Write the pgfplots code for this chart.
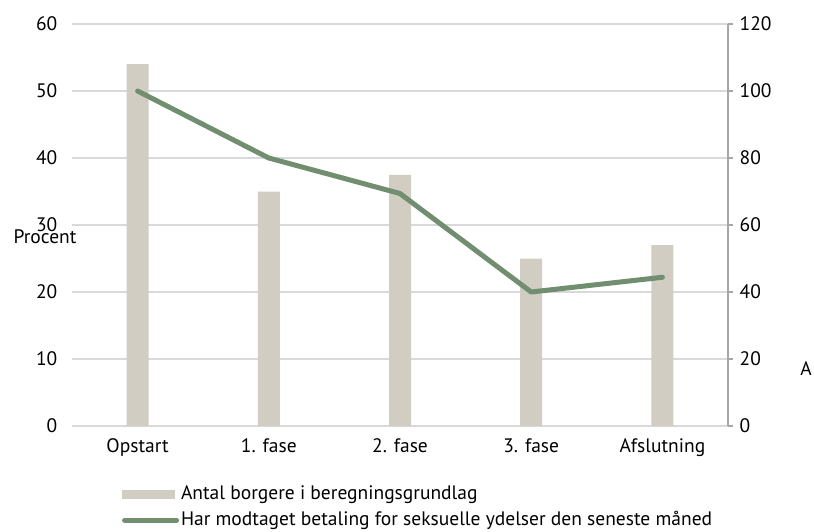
\documentclass[border=0pt]{standalone}
\usepackage{fontspec}
\setmainfont{PT Sans}
\usepackage{pgfplots}
\pgfplotsset{compat=1.18}
\definecolor{barbeige}{HTML}{D1CDC2}
\definecolor{linegreen}{HTML}{728E71}
\definecolor{gridgray}{HTML}{D9D9D9}
\definecolor{axgray}{HTML}{A6A6A6}

\begin{document}
\fontsize{19.5}{22}\selectfont
\begin{tikzpicture}[x=1pt,y=1pt]
\useasboundingbox (-72,-105) rectangle (742,426);
% right axis: counts (bars) + grid
\begin{axis}[
    at={(0,0)}, anchor=south west,
    scale only axis, width=656pt, height=402pt,
    xmin=-0.5, xmax=4.5, ymin=0, ymax=120,
    axis y line*=right, axis x line*=bottom,
    x axis line style={draw=none},
    xtick={0,1,2,3,4},
    xticklabels={Opstart,1. fase,2. fase,3. fase,Afslutning},
    xtick style={draw=none},
    xticklabel style={yshift=-1pt},
    ytick={0,20,...,120},
    y axis line style={axgray, line width=1.5pt},
    ytick style={axgray, line width=1.5pt},
    tick align=outside, major tick length=5pt,
    ymajorgrids, grid style={gridgray, line width=1.5pt},
    yticklabel style={xshift=0pt},
    /pgf/number format/assume math mode=true,
    ticklabel style={font=\fontsize{19.5}{22}\selectfont},
]
\addplot[ybar, bar width=22pt, fill=barbeige, draw=none] coordinates {
    (0,108) (1,70) (2,75) (3,50) (4,54)
};
\end{axis}
% left axis: percent (line)
\begin{axis}[
    at={(0,0)}, anchor=south west,
    scale only axis, width=656pt, height=402pt,
    xmin=-0.5, xmax=4.5, ymin=0, ymax=60,
    axis y line*=left, axis x line=none,
    y axis line style={draw=none},
    ytick={0,10,...,60}, ytick style={draw=none},
    yticklabel style={xshift=-8pt},
    /pgf/number format/assume math mode=true,
    ticklabel style={font=\fontsize{19.5}{22}\selectfont},
    legend style={draw=none, fill=none, at={(axis description cs:0.076,-0.143)},
        anchor=north west, row sep=5pt, font=\fontsize{19.5}{22}\selectfont,
        inner sep=0pt},
    legend cell align=left,
]
\addlegendimage{legend image code/.code={\fill[barbeige] (0pt,-4pt) rectangle (52pt,4pt);}}
\addlegendentry{Antal borgere i beregningsgrundlag}
\addplot[linegreen, line width=5pt, line cap=round, line join=round,
    legend image code/.code={\draw[linegreen, line width=5pt, line cap=round] (2pt,0pt) -- (54pt,0pt);}]
    coordinates {
    (0,50) (1,40) (2,34.7) (3,20) (4,22.2)
};
\addlegendentry{Har modtaget betaling for seksuelle ydelser den seneste måned}
\end{axis}
\node at (-27,189) {Procent};
\node at (734,57) {A};
\end{tikzpicture}
\end{document}
